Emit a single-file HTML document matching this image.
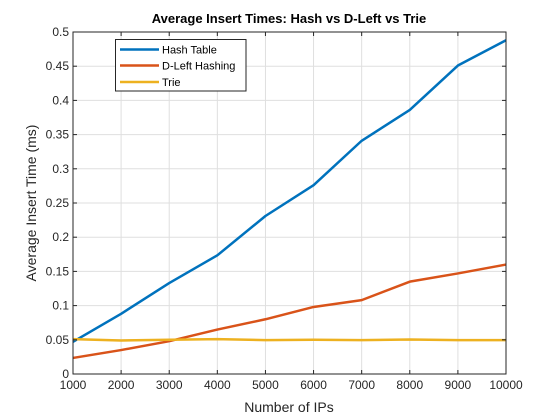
<!DOCTYPE html>
<html><head><meta charset="utf-8"><style>
body{margin:0;background:#fff}
svg{display:block;font-family:"Liberation Sans",Arial,sans-serif}
</style></head><body>
<svg id="chart" width="560" height="420" viewBox="0 0 560 420">
<rect x="0" y="0" width="560" height="420" fill="#fff"/>
<rect x="73" y="32" width="433" height="342" fill="#fff"/>
<g id="grid"></g>
<g id="series"></g>
<rect x="73" y="32" width="433" height="342" fill="none" stroke="#262626" stroke-width="1"/>
<g id="ticks"></g>
<text x="289" y="23" text-anchor="middle" font-size="13" font-weight="bold" fill="#000">Average Insert Times: Hash vs D-Left vs Trie</text>
<text x="289" y="412" text-anchor="middle" font-size="14" fill="#262626">Number of IPs</text>
<text x="36" y="203" text-anchor="middle" font-size="14" fill="#262626" transform="rotate(-90 36 203)">Average Insert Time (ms)</text>
<g>
<rect x="115.5" y="39.5" width="130.5" height="51.5" fill="#fff" stroke="#262626" stroke-width="1"/>
<g><line x1="120" y1="49.5" x2="159" y2="49.5" stroke="#0072BD" stroke-width="2.5"/><text x="162" y="53.5" font-size="11" fill="#000">Hash Table</text></g>
<g><line x1="120" y1="65.5" x2="159" y2="65.5" stroke="#D95319" stroke-width="2.5"/><text x="162" y="69.5" font-size="11" fill="#000">D-Left Hashing</text></g>
<g><line x1="120" y1="82" x2="159" y2="82" stroke="#EDB120" stroke-width="2.5"/><text x="162" y="86" font-size="11" fill="#000">Trie</text></g>
</g>
</svg>
<script>
const xValues = [1000,2000,3000,4000,5000,6000,7000,8000,9000,10000];
const hashTable = [0.047,0.088,0.133,0.1735,0.231,0.276,0.341,0.386,0.451,0.488];
const dLeft = [0.0235,0.035,0.048,0.065,0.080,0.098,0.108,0.135,0.147,0.160];
const trie = [0.051,0.049,0.050,0.051,0.0495,0.050,0.0495,0.0505,0.0495,0.0495];
const xTicks = [1000,2000,3000,4000,5000,6000,7000,8000,9000,10000];
const yTicks = [0,0.05,0.1,0.15,0.2,0.25,0.3,0.35,0.4,0.45,0.5];
const yTickLabels = ["0","0.05","0.1","0.15","0.2","0.25","0.3","0.35","0.4","0.45","0.5"];

const L=73,R=506,T=32,B=374;
const xs=v=>L+(v-1000)/9000*(R-L);
const ys=v=>B-v/0.5*(B-T);
const NS="http://www.w3.org/2000/svg";
function mk(tag,attrs,parent){const e=document.createElementNS(NS,tag);for(const k in attrs)e.setAttribute(k,attrs[k]);parent.appendChild(e);return e;}
const grid=document.getElementById('grid'),ticks=document.getElementById('ticks'),series=document.getElementById('series');
xTicks.forEach((t,i)=>{
  const x=xs(t);
  const g=mk('line',{x1:x,y1:T,x2:x,y2:B,stroke:'#dfdfdf','stroke-width':1},grid);
  
  
  mk('line',{x1:x,y1:B,x2:x,y2:B-4,stroke:'#262626'},ticks);
  mk('line',{x1:x,y1:T,x2:x,y2:T+4,stroke:'#262626'},ticks);
  const tx=mk('text',{x:x,y:B+15,'text-anchor':'middle','font-size':12,fill:'#262626'},ticks);
  tx.textContent=t;
  
  
});
yTicks.forEach((t,i)=>{
  const y=ys(t);
  const g=mk('line',{x1:L,y1:y,x2:R,y2:y,stroke:'#dfdfdf','stroke-width':1},grid);
  
  
  mk('line',{x1:L,y1:y,x2:L+4,y2:y,stroke:'#262626'},ticks);
  mk('line',{x1:R,y1:y,x2:R-4,y2:y,stroke:'#262626'},ticks);
  const tx=mk('text',{x:L-4,y:y+4,'text-anchor':'end','font-size':12,fill:'#262626'},ticks);
  tx.textContent=yTickLabels[i];
  
  
});
function line(data,color,name){
  const pts=data.map((v,i)=>xs(xValues[i]).toFixed(2)+','+ys(v).toFixed(2)).join(' ');
  const p=mk('polyline',{points:pts,fill:'none',stroke:color,'stroke-width':2.5,'stroke-linejoin':'round'},series);
  
  
}
line(hashTable,'#0072BD','hash-table-line');
line(dLeft,'#D95319','d-left-line');
line(trie,'#EDB120','trie-line');
</script>
</body></html>
